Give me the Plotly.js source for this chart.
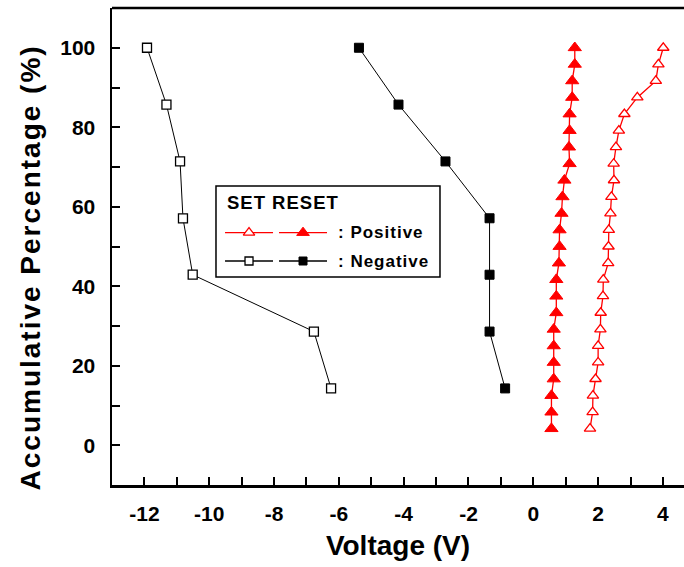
<!DOCTYPE html>
<html>
<head>
<meta charset="utf-8">
<script src="https://cdn.plot.ly/plotly-3.0.1.min.js"></script>
<style>
  html, body { margin: 0; padding: 0; background: #fff; }
  #chart { width: 684px; height: 567px; }
  .annotation-text { letter-spacing: 1px; }
  .annotation[data-index="3"] .annotation-text { letter-spacing: 2px; }
</style>
</head>
<body>
<div id="chart"></div>
<script>
// ---- data ----
var negPct = [14.3, 28.6, 42.9, 57.1, 71.4, 85.7, 100];
var negSetV = [-6.24, -6.77, -10.51, -10.81, -10.90, -11.32, -11.92];
var negResetV = [-0.87, -1.35, -1.35, -1.35, -2.71, -4.16, -5.38];

var posPct = [4.17, 8.33, 12.5, 16.67, 20.83, 25, 29.17, 33.33, 37.5, 41.67, 45.83, 50,
              54.17, 58.33, 62.5, 66.67, 70.83, 75, 79.17, 83.33, 87.5, 91.67, 95.83, 100];
var posSetV = [1.75, 1.83, 1.84, 1.92, 2.00, 2.00, 2.07, 2.08, 2.15, 2.16, 2.31, 2.32,
               2.33, 2.38, 2.41, 2.49, 2.48, 2.55, 2.64, 2.81, 3.21, 3.78, 3.86, 4.01];
var posResetV = [0.56, 0.56, 0.56, 0.63, 0.63, 0.63, 0.63, 0.71, 0.71, 0.71, 0.79, 0.81,
                 0.81, 0.87, 0.90, 0.96, 1.12, 1.10, 1.12, 1.12, 1.20, 1.20, 1.28, 1.28];

var xTickVals = [-12, -10, -8, -6, -4, -2, 0, 2, 4];
var xTickText = ['-12', '-10', '-8', '-6', '-4', '-2', '0', '2', '4'];
var yTickVals = [0, 20, 40, 60, 80, 100];
var yTickText = ['0', '20', '40', '60', '80', '100'];

var xTitle = 'Voltage (V)';
var yTitle = 'Accumulative Percentage (%)';
var legendTitle = 'SET RESET';
var legendLabels = [': Positive', ': Negative'];

var FONT = 'Liberation Sans, Arial, sans-serif';
var RED = '#ff0000';

var traces = [
  { x: negSetV, y: negPct, mode: 'lines+markers', type: 'scatter',
    line: { color: '#000', width: 1 },
    marker: { symbol: 'square', size: 9, color: '#fff', line: { color: '#000', width: 1.3 } } },
  { x: negResetV, y: negPct, mode: 'lines+markers', type: 'scatter',
    line: { color: '#000', width: 1 },
    marker: { symbol: 'square', size: 9, color: '#000', line: { color: '#000', width: 1 } } },
  { x: posSetV, y: posPct, mode: 'lines+markers', type: 'scatter',
    line: { color: RED, width: 1.3 },
    marker: { symbol: 'triangle-up', size: 10, color: '#fff', line: { color: RED, width: 1.3 } } },
  { x: posResetV, y: posPct, mode: 'lines+markers', type: 'scatter',
    line: { color: RED, width: 1.3 },
    marker: { symbol: 'triangle-up', size: 11.5, color: RED, line: { color: RED, width: 1 } } }
];

// legend box geometry in paper fractions
var bx0 = 0.1818, bx1 = 0.5734, by0 = 0.436, by1 = 0.627;
var rowY = [0.529, 0.4696];
var seg1 = [0.1976, 0.2815], seg2 = [0.2920, 0.3759];
var legStyles = [
  { c: RED, open: 'triangle-up', size1: 10, size2: 11 },
  { c: '#000', open: 'square', size1: 8, size2: 8 }
];
legStyles.forEach(function (s, i) {
  var y = rowY[i];
  traces.push({ x: seg1, y: [y, y], xaxis: 'x2', yaxis: 'y2', mode: 'lines', type: 'scatter',
    line: { color: s.c, width: 1.3 }, hoverinfo: 'skip' });
  traces.push({ x: seg2, y: [y, y], xaxis: 'x2', yaxis: 'y2', mode: 'lines', type: 'scatter',
    line: { color: s.c, width: 1.3 }, hoverinfo: 'skip' });
  traces.push({ x: [(seg1[0] + seg1[1]) / 2], y: [y], xaxis: 'x2', yaxis: 'y2', mode: 'markers', type: 'scatter',
    marker: { symbol: s.open, size: s.size1, color: '#fff', line: { color: s.c, width: 1.3 } }, hoverinfo: 'skip' });
  traces.push({ x: [(seg2[0] + seg2[1]) / 2], y: [y], xaxis: 'x2', yaxis: 'y2', mode: 'markers', type: 'scatter',
    marker: { symbol: s.open, size: s.size2, color: s.c, line: { color: s.c, width: 1 } }, hoverinfo: 'skip' });
});

var layout = {
  width: 684, height: 567,
  margin: { l: 112, r: 0, t: 8, b: 82 },
  paper_bgcolor: '#fff', plot_bgcolor: '#fff',
  showlegend: false,
  font: { family: FONT, color: '#000' },
  xaxis: {
    range: [-13, 4.65], showgrid: false, zeroline: false,
    showline: true, linecolor: '#000', linewidth: 2.5,
    tickmode: 'array', tickvals: xTickVals, ticktext: xTickText,
    ticks: 'inside', ticklen: 8, tickwidth: 2, tickcolor: '#000',
    minor: { tickmode: 'linear', tick0: 0, dtick: 1, ticks: 'inside', ticklen: 8, tickwidth: 2, tickcolor: '#000', showgrid: false },
    tickfont: { family: FONT, size: 21, weight: 'bold', color: '#000' },
    ticklabelstandoff: 8,
    title: { text: xTitle, font: { family: FONT, size: 28, weight: 'bold', color: '#000' }, standoff: 12 }
  },
  yaxis: {
    range: [-10, 110], showgrid: false, zeroline: false,
    showline: true, linecolor: '#000', linewidth: 2.5,
    tickmode: 'array', tickvals: yTickVals, ticktext: yTickText,
    ticks: 'inside', ticklen: 8, tickwidth: 2, tickcolor: '#000',
    minor: { tickmode: 'linear', tick0: 0, dtick: 10, ticks: 'inside', ticklen: 8, tickwidth: 2, tickcolor: '#000', showgrid: false },
    tickfont: { family: FONT, size: 21, weight: 'bold', color: '#000' },
    ticklabelstandoff: 10
  },
  xaxis2: { domain: [0, 1], range: [0, 1], overlaying: 'x', anchor: 'y2', visible: false, fixedrange: true },
  yaxis2: { domain: [0, 1], range: [0, 1], overlaying: 'y', anchor: 'x2', visible: false, fixedrange: true },
  shapes: [
    { type: 'line', xref: 'paper', yref: 'paper', x0: 0, x1: 1, y0: 1, y1: 1, line: { color: '#000', width: 2.5 } },
    { type: 'rect', xref: 'paper', yref: 'paper', x0: bx0, x1: bx1, y0: by0, y1: by1,
      line: { color: '#000', width: 1.5 }, fillcolor: '#fff', layer: 'below' }
  ],
  annotations: [
    { xref: 'paper', yref: 'paper', x: 0.1976, y: 0.592, xanchor: 'left', yanchor: 'middle', showarrow: false,
      text: legendTitle, font: { family: FONT, size: 18.5, weight: 'bold', color: '#000' } },
    { xref: 'paper', yref: 'paper', x: 0.3920, y: rowY[0], xanchor: 'left', yanchor: 'middle', showarrow: false,
      text: legendLabels[0], font: { family: FONT, size: 17, weight: 'bold', color: '#000' } },
    { xref: 'paper', yref: 'paper', x: 0.3920, y: rowY[1], xanchor: 'left', yanchor: 'middle', showarrow: false,
      text: legendLabels[1], font: { family: FONT, size: 17, weight: 'bold', color: '#000' } },
    { xref: 'paper', yref: 'paper', x: -0.1434, y: 0.457, xanchor: 'center', yanchor: 'middle', showarrow: false,
      textangle: -90, text: yTitle, font: { family: FONT, size: 28, weight: 'bold', color: '#000' } }
  ]
};

Plotly.newPlot('chart', traces, layout, { displayModeBar: false, staticPlot: true });
</script>
</body>
</html>
